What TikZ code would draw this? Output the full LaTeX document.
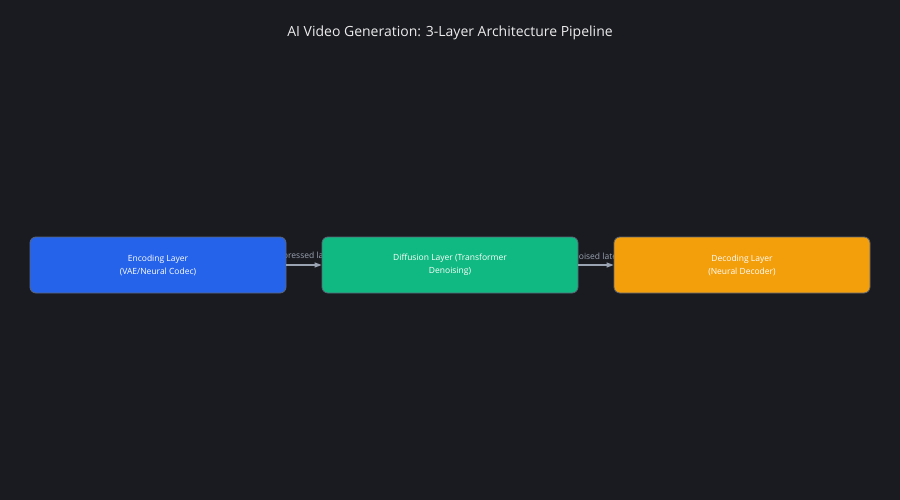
\documentclass[tikz,border=0pt]{standalone}
\usepackage{fontspec}
\setmainfont{Open Sans}
\usetikzlibrary{arrows.meta}
\definecolor{bg}{HTML}{1A1B20}
\definecolor{bd}{HTML}{5A6577}
\definecolor{lab}{HTML}{9AA3B2}
\tikzset{x=1pt,y=-1pt,
box/.style={draw=bd,line width=0.8pt,rounded corners=6pt,minimum width=256pt,minimum height=56pt,align=center,text=white,font=\fontsize{8.5}{13}\selectfont},
arr/.style={draw=lab,line width=1.2pt,-{Triangle[length=7pt,width=5pt]}},
lbl/.style={text=lab,font=\fontsize{8.5}{10}\selectfont}}
\begin{document}
\begin{tikzpicture}
\fill[bg] (0,0) rectangle (900,500);
\useasboundingbox (0,0) rectangle (900,500);
\node[text=white!85!gray,font=\fontsize{14}{16}\selectfont] (title) at (450,33) {AI Video Generation: 3-Layer Architecture Pipeline};
\node[lbl] (l1) at (304,256) {Compressed latents};
\node[lbl] (l2) at (596,256) {Denoised latents};
\node[box,fill=blue!60!cyan!70!black,fill={rgb,255:red,37;green,99;blue,235}] (a) at (158,265) {Encoding Layer\\(VAE/Neural Codec)};
\node[box,fill={rgb,255:red,16;green,185;blue,129}] (b) at (450,265) {Diffusion Layer (Transformer\\Denoising)};
\node[box,fill={rgb,255:red,243;green,158;blue,11}] (c) at (742,265) {Decoding Layer\\(Neural Decoder)};
\draw[arr] (a) -- (b);
\draw[arr] (b) -- (c);
\end{tikzpicture}
\end{document}
